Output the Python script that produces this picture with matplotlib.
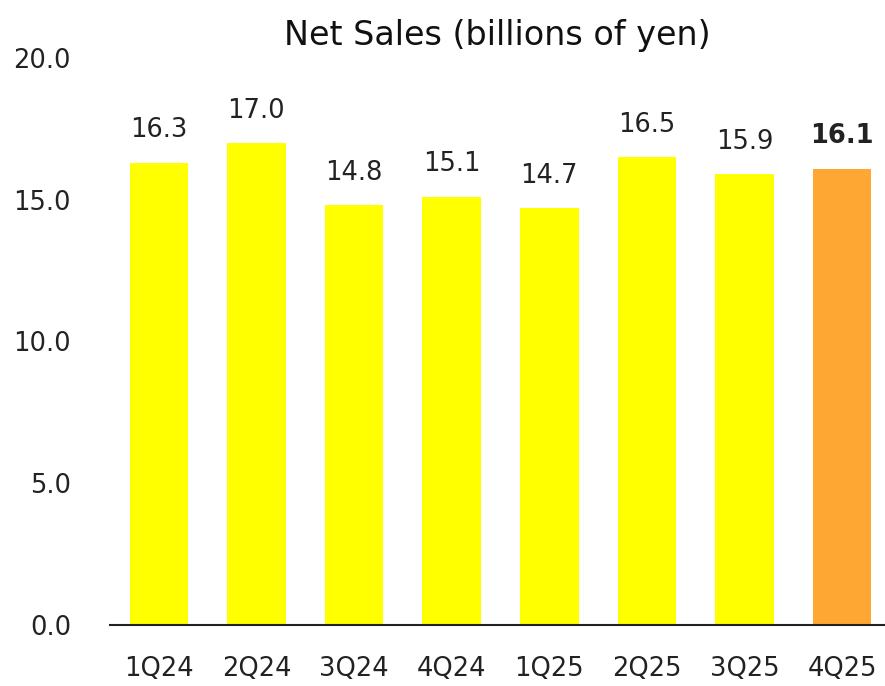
import matplotlib.pyplot as plt

# data
quarters = ['1Q24', '2Q24', '3Q24', '4Q24', '1Q25', '2Q25', '3Q25', '4Q25']
net_sales = [16.3, 17.0, 14.8, 15.1, 14.7, 16.5, 15.9, 16.1]
yticks = [0, 5, 10, 15, 20]

plt.rcParams['font.family'] = ['DejaVu Sans']

colors = ['#FFFF00'] * (len(quarters) - 1) + ['#FFA733']

fig = plt.figure(figsize=(8.85, 6.86), dpi=100)
ax = fig.add_axes([0.1243, 0.0889, 0.8757, 0.8266])

x = range(len(quarters))
bars = ax.bar(x, net_sales, width=0.6, color=colors)

for i, (b, v) in enumerate(zip(bars, net_sales)):
    weight = 'bold' if i == len(net_sales) - 1 else 'normal'
    ax.annotate(f'{v:.1f}', (b.get_x() + b.get_width() / 2, v),
                xytext=(0, 14), textcoords='offset points',
                ha='center', va='bottom', fontsize=18.5, color='#222222',
                fontweight=weight)

ax.set_xlim(-0.5, 7.44)
ax.set_ylim(0, 20)
ax.set_yticks(yticks)
ax.set_yticklabels([f'{t:.1f}' for t in yticks])
ax.set_xticks(list(x))
ax.set_xticklabels(quarters)
ax.tick_params(axis='both', length=0, labelsize=18.5, colors='#222222')
ax.tick_params(axis='x', pad=22)
ax.tick_params(axis='y', pad=28)

for s in ['top', 'right', 'left']:
    ax.spines[s].set_visible(False)
ax.spines['bottom'].set_linewidth(1.5)
ax.spines['bottom'].set_color('#222222')

ax.set_title('Net Sales (billions of yen)', fontsize=24,
             color='#111111', pad=9)

fig.savefig('out.png', dpi=100)
